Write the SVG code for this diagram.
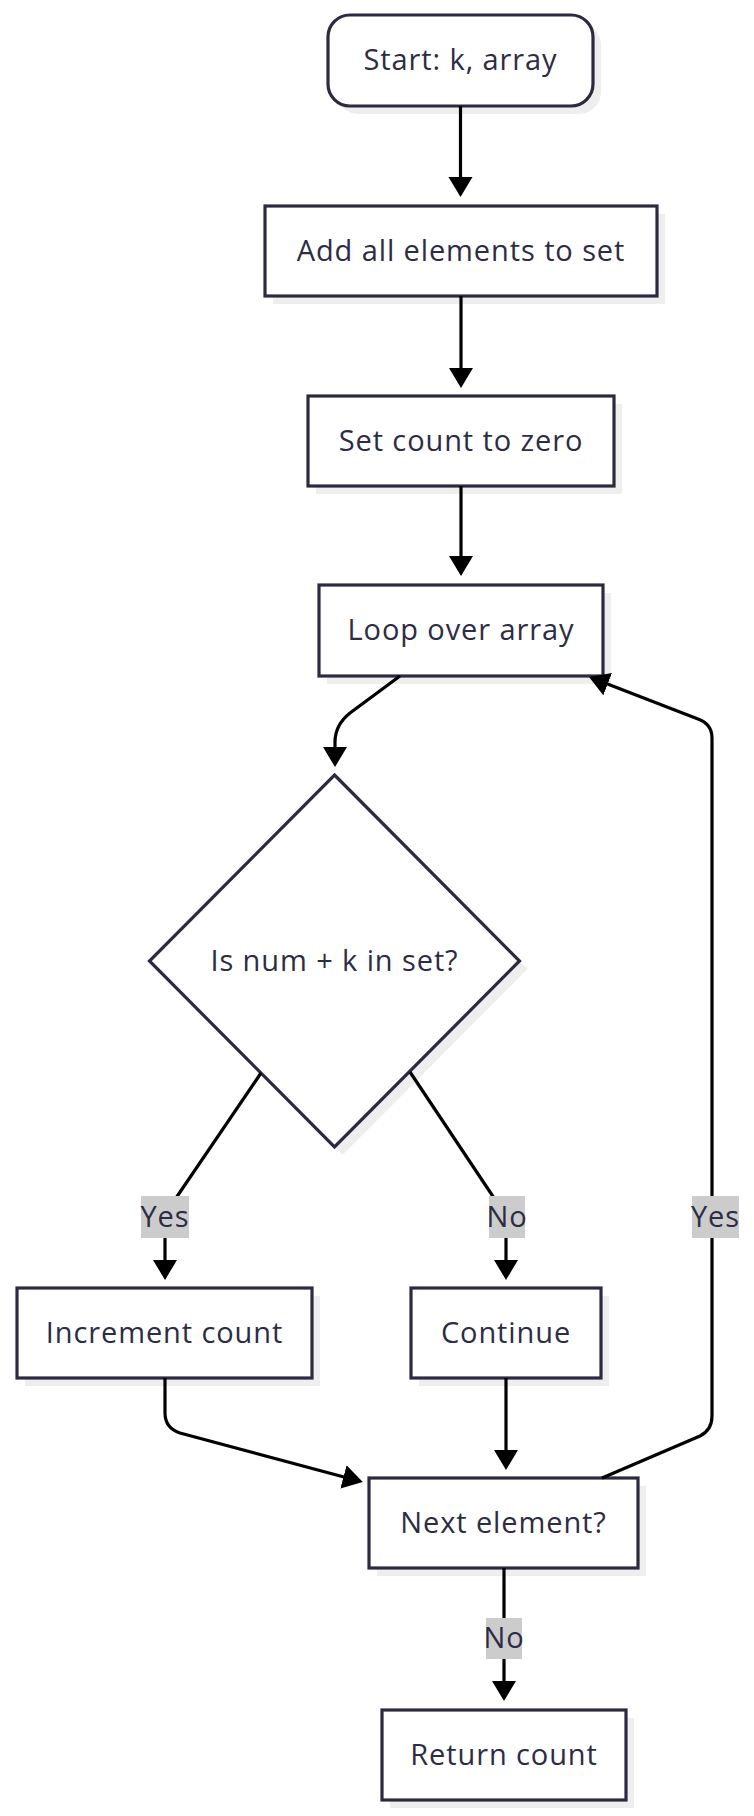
<svg xmlns="http://www.w3.org/2000/svg" width="754" height="1816" viewBox="0 0 754 1816">
<style>
.node{fill:#ffffff;stroke:#2b2a40;stroke-width:3.2}
.shadow{fill:#eeeeee;stroke:none}
.t{font-family:"Open Sans","Liberation Sans",sans-serif;font-size:29px;letter-spacing:0.9px;fill:#2d2c45;text-anchor:middle;dominant-baseline:central}
.edge{fill:none;stroke:#000000;stroke-width:3.2}
.lbg{fill:#cccccc}
</style>
<defs>
<marker id="arr" markerUnits="userSpaceOnUse" markerWidth="22" markerHeight="26" refX="14" refY="12" orient="auto">
<path d="M0,0 L20,12 L0,24 z" fill="#000000"/>
</marker>
</defs>
<g id="start">
<rect class="shadow" x="336" y="23" width="265" height="91" rx="22"/>
<rect class="node" x="328" y="15" width="265" height="91" rx="22"/>
<text class="t" x="460.5" y="58.5">Start: k, array</text>
</g>
<g id="addall">
<rect class="shadow" x="273" y="214" width="392" height="90"/>
<rect class="node" x="265" y="206" width="392" height="90"/>
<text class="t" x="461" y="249">Add all elements to set</text>
</g>
<g id="setcount">
<rect class="shadow" x="316" y="404" width="306" height="90"/>
<rect class="node" x="308" y="396" width="306" height="90"/>
<text class="t" x="461" y="439">Set count to zero</text>
</g>
<g id="loop">
<rect class="shadow" x="327" y="593" width="284" height="91"/>
<rect class="node" x="319" y="585" width="284" height="91"/>
<text class="t" x="461" y="628.5">Loop over array</text>
</g>
<g id="check">
<polygon class="shadow" points="342.5,783 527.5,969 342.5,1155 157.5,969"/>
<polygon class="node" points="334.5,775 519.5,961 334.5,1147 149.5,961"/>
<text class="t" x="334.5" y="959">Is num + k in set?</text>
</g>
<g id="increment">
<rect class="shadow" x="25" y="1296" width="295" height="90"/>
<rect class="node" x="17" y="1288" width="295" height="90"/>
<text class="t" x="164.5" y="1331">Increment count</text>
</g>
<g id="continue">
<rect class="shadow" x="419" y="1296" width="190" height="90"/>
<rect class="node" x="411" y="1288" width="190" height="90"/>
<text class="t" x="506" y="1331">Continue</text>
</g>
<g id="next">
<rect class="shadow" x="377" y="1486" width="269" height="90"/>
<rect class="node" x="369" y="1478" width="269" height="90"/>
<text class="t" x="503.5" y="1521">Next element?</text>
</g>
<g id="return">
<rect class="shadow" x="390" y="1718" width="244" height="90"/>
<rect class="node" x="382" y="1710" width="244" height="90"/>
<text class="t" x="504" y="1753">Return count</text>
</g>
<g id="connectors">
<path class="edge" marker-end="url(#arr)" d="M460.5,106 L460.5,191"/>
<path class="edge" marker-end="url(#arr)" d="M461,296 L461,382"/>
<path class="edge" marker-end="url(#arr)" d="M461,486 L461,570"/>
<path class="edge" marker-end="url(#arr)" d="M400,676 L350,713 Q335,725 335,742 L335,761"/>
<path class="edge" marker-end="url(#arr)" d="M261,1073 L176,1198 Q165,1213 165,1228 L165,1274"/>
<path class="edge" marker-end="url(#arr)" d="M410,1072 L494,1198 Q506,1213 506,1228 L506,1274"/>
<path class="edge" marker-end="url(#arr)" d="M165,1378 L165,1413 Q165,1428 180,1433 L357,1480.5"/>
<path class="edge" marker-end="url(#arr)" d="M506,1378 L506,1464"/>
<path class="edge" marker-end="url(#arr)" d="M602,1478 L700,1436 Q712,1430 712,1416 L712,738 Q712,724 698,719 L594.6,679.1"/>
<path class="edge" marker-end="url(#arr)" d="M504,1568 L504,1695"/>
<g id="label-yes1">
<rect class="lbg" x="141" y="1196" width="48" height="42"/>
<text class="t" x="165" y="1215">Yes</text>
</g>
<g id="label-no1">
<rect class="lbg" x="489" y="1196" width="36" height="42"/>
<text class="t" x="507" y="1215">No</text>
</g>
<g id="label-yes2">
<rect class="lbg" x="692" y="1196" width="47" height="42"/>
<text class="t" x="715.5" y="1215">Yes</text>
</g>
<g id="label-no2">
<rect class="lbg" x="486" y="1618" width="36" height="41"/>
<text class="t" x="504" y="1636.5">No</text>
</g>
</g>
</svg>
